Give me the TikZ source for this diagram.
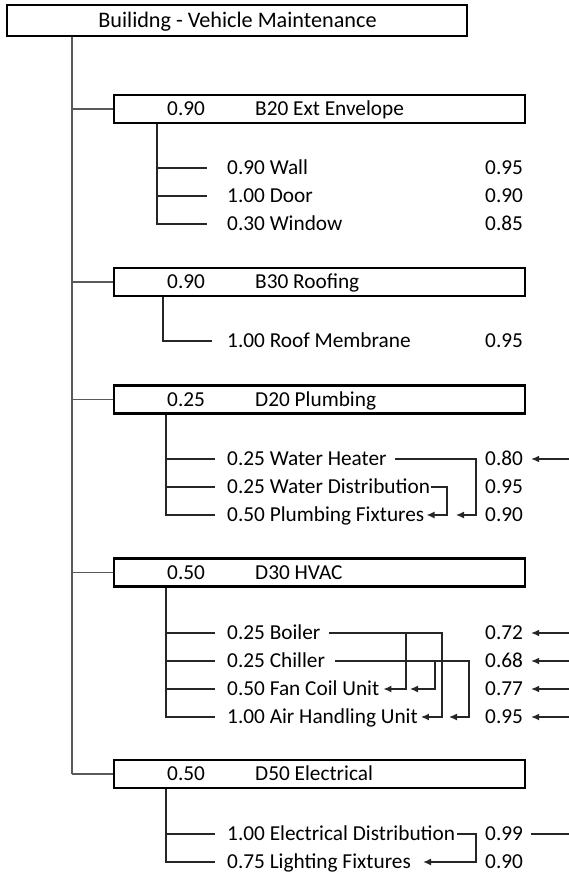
\documentclass[tikz,border=0pt]{standalone}
\usepackage{fontspec}
\setmainfont{Carlito}
\usetikzlibrary{arrows.meta}
\begin{document}
\begin{tikzpicture}[x=1pt,y=-1pt,
  txt/.style={anchor=west,inner sep=0pt,text height=13.7pt,text depth=0pt,
    font=\fontsize{21.3}{24}\selectfont,text=black},
  secbox/.style={draw,line width=2.2pt,minimum width=411pt,minimum height=28pt,inner sep=0pt},
  ln/.style={line width=1.3pt,draw=black!85},
  mainln/.style={line width=1.5pt,draw=black!65},
  arr/.style={ln,-{Latex[length=8pt,width=7pt]}}]
\useasboundingbox (0,0) rectangle (569,875);
\coordinate (E) at (569,0);
% top
\node[secbox,minimum width=460pt,minimum height=31pt] (top) at (237,20.5) {};
\node[txt,anchor=center,font=\fontsize{22.2}{24}\selectfont] (title) at (237.5,20.5) {Builidng - Vehicle Maintenance};
% section boxes
\node[secbox] (b20) at (319.5,109) {};
\node[txt] (b20w) at (167,109) {0.90};
\node[txt] (b20n) at (255,109) {B20 Ext Envelope};
\node[secbox] (b30) at (319.5,282) {};
\node[txt] (b30w) at (167,282) {0.90};
\node[txt] (b30n) at (255,282) {B30 Roofing};
\node[secbox] (d20) at (319.5,399.5) {};
\node[txt] (d20w) at (167,399.5) {0.25};
\node[txt] (d20n) at (255,399.5) {D20 Plumbing};
\node[secbox] (d30) at (319.5,572.5) {};
\node[txt] (d30w) at (167,572.5) {0.50};
\node[txt] (d30n) at (255,572.5) {D30 HVAC};
\node[secbox] (d50) at (319.5,774) {};
\node[txt] (d50w) at (167,774) {0.50};
\node[txt] (d50n) at (255,774) {D50 Electrical};
% main trunk
\coordinate (m0) at ([xshift=66]top.south west);
\draw[mainln] (m0) -- (m0 |- d50.west);
\foreach \b in {b20,b30,d20,d30,d50} \draw[mainln] (m0 |- \b.west) -- (\b.west);
% B20 items
\node[txt] (wall) at (227,168) {0.90 Wall};
\node[txt] (wallv) at (485,168) {0.95};
\node[txt] (door) at (227,196) {1.00 Door};
\node[txt] (doorv) at (485,196) {0.90};
\node[txt] (win) at (227,224) {0.30 Window};
\node[txt] (winv) at (485,224) {0.85};
\coordinate (s1) at ([xshift=44]b20.south west);
\draw[ln] (s1) |- ([xshift=-20]win.west);
\draw[ln] (s1 |- wall.west) -- ([xshift=-20]wall.west);
\draw[ln] (s1 |- door.west) -- ([xshift=-20]door.west);
% B30 items
\node[txt] (roof) at (227,341) {1.00 Roof Membrane};
\node[txt] (roofv) at (485,341) {0.95};
\coordinate (s2) at ([xshift=50]b30.south west);
\draw[ln] (s2) |- ([xshift=-15]roof.west);
% D20 items
\node[txt] (wh) at (227,459) {0.25 Water Heater};
\node[txt] (whv) at (485,459) {0.80};
\node[txt] (wd) at (227,487) {0.25 Water Distribution};
\node[txt] (wdv) at (485,487) {0.95};
\node[txt] (pf) at (227,515) {0.50 Plumbing Fixtures};
\node[txt] (pfv) at (485,515) {0.90};
\coordinate (s3) at ([xshift=53]d20.south west);
\draw[ln] (s3) |- ([xshift=-12]pf.west);
\draw[ln] (s3 |- wh.west) -- ([xshift=-12]wh.west);
\draw[ln] (s3 |- wd.west) -- ([xshift=-12]wd.west);
\coordinate (k1) at (476,0);
\coordinate (k2) at (447,0);
\draw[arr] ([xshift=8]wh.east) -| (k1 |- pf.east) -- ([xshift=9]k2 |- pf.east);
\draw[arr] ([xshift=1]wd.east) -| (k2 |- pf.east) -- ([xshift=2]pf.east);
\draw[arr] (whv.east -| E) -- ([xshift=8]whv.east);
% D30 items
\node[txt] (bo) at (227,633) {0.25 Boiler};
\node[txt] (bov) at (485,633) {0.72};
\node[txt] (ch) at (227,661) {0.25 Chiller};
\node[txt] (chv) at (485,661) {0.68};
\node[txt] (fcu) at (227,689) {0.50 Fan Coil Unit};
\node[txt] (fcuv) at (485,689) {0.77};
\node[txt] (ahu) at (227,717) {1.00 Air Handling Unit};
\node[txt] (ahuv) at (485,717) {0.95};
\coordinate (s4) at ([xshift=53]d30.south west);
\draw[ln] (s4) |- ([xshift=-12]ahu.west);
\foreach \n in {bo,ch,fcu} \draw[ln] (s4 |- \n.west) -- ([xshift=-12]\n.west);
\coordinate (kb) at (442,0);
\coordinate (kb2) at (406,0);
\coordinate (kc) at (469,0);
\coordinate (kc2) at (435,0);
\draw[arr] ([xshift=8]bo.east) -| (kb |- ahu.east) -- ([xshift=3]ahu.east);
\draw[arr] (kb2 |- bo.east) -- (kb2 |- fcu.east) -- ([xshift=4]fcu.east);
\draw[arr] ([xshift=10]ch.east) -| (kc |- ahu.east) -- ([xshift=7]kb |- ahu.east);
\draw[arr] (kc2 |- ch.east) -- (kc2 |- fcu.east) -- ([xshift=4]kb2 |- fcu.east);
\foreach \n in {bov,chv,fcuv,ahuv} \draw[arr] (\n.east -| E) -- ([xshift=8]\n.east);
% D50 items
\node[txt] (ed) at (227,834) {1.00 Electrical Distribution};
\node[txt] (edv) at (485,834) {0.99};
\node[txt] (lf) at (227,862) {0.75 Lighting Fixtures};
\node[txt] (lfv) at (485,862) {0.90};
\coordinate (s5) at ([xshift=53]d50.south west);
\draw[ln] (s5) |- ([xshift=-12]lf.west);
\draw[ln] (s5 |- ed.west) -- ([xshift=-12]ed.west);
\coordinate (k5) at (476,0);
\draw[arr] ([xshift=2]ed.east) -| (k5 |- lf.east) -- ([xshift=12]lf.east);
\draw[ln] ([xshift=8]edv.east) -- (edv.east -| E);
\end{tikzpicture}
\end{document}
